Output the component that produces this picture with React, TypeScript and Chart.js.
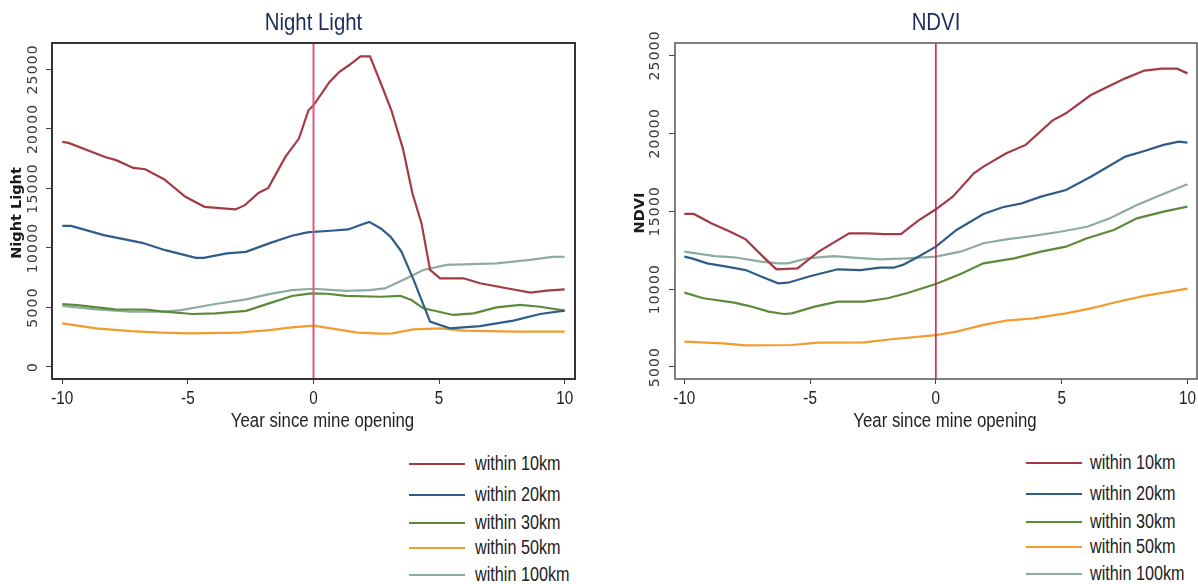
import React, { useEffect, useRef } from "react";
import { Chart, registerables } from "chart.js";

Chart.register(...registerables);

type Pt = [number, number];

const SANS = "'Liberation Sans', Arial, sans-serif";
const WIDE = "'DejaVu Sans', Verdana, sans-serif";

const seriesNames = ["within 10km", "within 20km", "within 30km", "within 50km", "within 100km"];
const seriesColors = ["#a33b45", "#2f5c89", "#5c8a3b", "#f39b2e", "#8cad9e"];
const xTickValues = [-10, -5, 0, 5, 10];
const nlYTickValues = [0, 5000, 10000, 15000, 20000, 25000];
const ndviYTickValues = [5000, 10000, 15000, 20000, 25000];
const xAxisTitle = "Year since mine opening";

// Night Light panel: [year, value]
const nl10km: Pt[] = [[-10, 18900], [-9.75, 18820], [-8.3, 17640], [-7.86, 17370], [-7.17, 16720], [-6.7, 16610], [-5.95, 15770], [-5.1, 14290], [-4.34, 13450], [-3.11, 13230], [-2.73, 13590], [-2.19, 14620], [-1.8, 15040], [-1.12, 17640], [-0.58, 19180], [-0.2, 21560], [0, 21980], [0.64, 23940], [1.03, 24780], [1.41, 25340], [1.87, 26090], [2.25, 26090], [2.71, 23660], [3.1, 21560], [3.56, 18340], [3.94, 14570], [4.3, 12060], [4.64, 8150], [5.04, 7450], [5.97, 7450], [6.63, 7030], [7.69, 6610], [8.64, 6240], [9.28, 6410], [10, 6520]];
const nl20km: Pt[] = [[-10, 11850], [-9.65, 11850], [-8.35, 11070], [-6.82, 10430], [-5.9, 9810], [-4.68, 9170], [-4.37, 9170], [-3.45, 9540], [-2.69, 9670], [-1.77, 10380], [-0.86, 11020], [-0.25, 11300], [0, 11350], [0.69, 11440], [1.38, 11550], [1.84, 11910], [2.22, 12190], [2.68, 11630], [3.07, 10930], [3.5, 9700], [3.99, 7300], [4.64, 3810], [5.43, 3250], [6.63, 3440], [7.96, 3890], [9.02, 4450], [10, 4730]];
const nl30km: Pt[] = [[-10, 5290], [-9.4, 5200], [-7.9, 4840], [-6.67, 4810], [-6.05, 4670], [-4.83, 4450], [-3.9, 4500], [-2.68, 4720], [-1.77, 5340], [-0.86, 5960], [-0.08, 6180], [0.53, 6150], [1.3, 5980], [2.68, 5900], [3.45, 5980], [3.9, 5620], [4.37, 4930], [5.57, 4370], [6.37, 4510], [7.29, 5010], [8.22, 5210], [9.02, 5060], [10, 4730]];
const nl50km: Pt[] = [[-10, 3660], [-8.65, 3250], [-7.27, 3020], [-6.05, 2880], [-4.98, 2830], [-2.99, 2880], [-1.77, 3100], [-0.86, 3330], [0, 3470], [0.69, 3250], [1.76, 2880], [2.68, 2800], [3.14, 2830], [3.97, 3160], [5.04, 3250], [5.97, 3050], [7.96, 2970], [10, 2970]];
const nl100km: Pt[] = [[-10, 5140], [-8.65, 4840], [-7.27, 4640], [-6.05, 4640], [-5.28, 4780], [-3.9, 5290], [-2.68, 5680], [-1.77, 6120], [-0.86, 6460], [0, 6570], [1.3, 6400], [2.22, 6460], [2.84, 6600], [3.71, 7450], [4.37, 8150], [5.3, 8570], [7.29, 8710], [8.62, 8990], [9.5, 9250], [10, 9260]];

// NDVI panel: [year, value]
const ndvi10km: Pt[] = [[-10, 14820], [-9.62, 14820], [-8.93, 14220], [-8.17, 13680], [-7.56, 13190], [-6.8, 11970], [-6.34, 11270], [-5.5, 11330], [-4.66, 12400], [-3.45, 13580], [-2.68, 13580], [-2.07, 13530], [-1.39, 13530], [-0.7, 14390], [0, 15120], [0.67, 15930], [1.51, 17430], [1.89, 17860], [2.8, 18710], [3.57, 19250], [4.63, 20810], [5.17, 21280], [6.16, 22450], [7.53, 23520], [8.29, 24020], [8.98, 24140], [9.59, 24140], [10, 23840]];
const ndvi20km: Pt[] = [[-10, 12080], [-9.7, 11970], [-9.09, 11650], [-8.32, 11440], [-7.56, 11220], [-6.95, 10800], [-6.27, 10370], [-5.88, 10410], [-4.97, 10840], [-3.9, 11270], [-2.99, 11220], [-2.23, 11370], [-1.69, 11370], [-1.31, 11550], [-0.7, 12080], [0, 12720], [0.82, 13790], [1.89, 14820], [2.65, 15250], [3.41, 15500], [4.18, 15930], [5.17, 16360], [6.16, 17210], [7.53, 18500], [8.29, 18860], [9.05, 19250], [9.66, 19460], [10, 19400]];
const ndvi30km: Pt[] = [[-10, 9770], [-9.24, 9410], [-8.02, 9130], [-7.41, 8910], [-6.65, 8550], [-6.04, 8400], [-5.73, 8440], [-4.82, 8870], [-3.9, 9190], [-2.84, 9190], [-1.92, 9410], [-1.16, 9730], [0, 10330], [0.98, 10970], [1.89, 11650], [3.11, 11970], [4.18, 12400], [5.17, 12720], [6.01, 13260], [7.07, 13790], [7.99, 14540], [9.05, 14970], [10, 15290]];
const ndvi50km: Pt[] = [[-10, 6630], [-8.48, 6520], [-7.56, 6390], [-5.73, 6410], [-4.66, 6560], [-2.84, 6580], [-1.77, 6780], [0, 7050], [0.82, 7270], [1.89, 7700], [2.8, 7970], [3.87, 8120], [5.17, 8440], [6.16, 8760], [7.23, 9190], [8.29, 9560], [10, 10030]];
const ndvi100km: Pt[] = [[-10, 12400], [-8.78, 12120], [-8.02, 12040], [-6.95, 11760], [-6.27, 11650], [-5.88, 11650], [-5.12, 11970], [-4.05, 12120], [-3.29, 12020], [-2.23, 11910], [-1.16, 11970], [0, 12080], [0.98, 12400], [1.89, 12940], [2.8, 13190], [3.87, 13410], [4.94, 13680], [6.01, 14000], [6.92, 14540], [7.99, 15400], [9.21, 16210], [10, 16720]];

interface PanelSpec {
  title: string;
  yTitle: string;
  series: Pt[][];
  yTicks: number[];
  xMin: number;
  xMax: number;
  yMin: number;
  yMax: number;
  width: number;
  height: number;
  area: { left: number; right: number; top: number; bottom: number };
  yLabelX: number;
  yTitleX: number;
  boxColor: string;
  boxWidth: number;
  vlineColor: string;
  vlineWidth: number;
}

const X_AXIS_H = 40;

function narrowText(ctx: CanvasRenderingContext2D, text: string, x: number, y: number, sx: number) {
  ctx.save();
  ctx.translate(x, y);
  ctx.scale(sx, 1);
  ctx.fillText(text, 0, 0);
  ctx.restore();
}

function Panel({ spec, left }: { spec: PanelSpec; left: number }) {
  const ref = useRef<HTMLCanvasElement | null>(null);
  useEffect(() => {
    const canvas = ref.current;
    if (!canvas) return;
    const a = spec.area;
    const deco = {
      id: "panelDeco",
      afterDatasetsDraw(chart: any) {
        const ctx = chart.ctx as CanvasRenderingContext2D;
        const ca = chart.chartArea;
        const xs = chart.scales.x;
        const ys = chart.scales.y;
        ctx.save();
        // reference line at 0
        const x0 = xs.getPixelForValue(0);
        ctx.strokeStyle = spec.vlineColor;
        ctx.lineWidth = spec.vlineWidth;
        ctx.beginPath();
        ctx.moveTo(x0, ca.top);
        ctx.lineTo(x0, ca.bottom);
        ctx.stroke();
        // plot box
        ctx.strokeStyle = spec.boxColor;
        ctx.lineWidth = spec.boxWidth;
        ctx.strokeRect(ca.left, ca.top, ca.right - ca.left, ca.bottom - ca.top);
        // title
        ctx.textAlign = "center";
        ctx.textBaseline = "middle";
        ctx.fillStyle = "#1f2b5b";
        ctx.font = `24px ${SANS}`;
        narrowText(ctx, spec.title, (ca.left + ca.right) / 2, 23, 0.85);
        // x tick labels
        ctx.fillStyle = "#222";
        ctx.font = `18px ${SANS}`;
        xTickValues.forEach((v) => narrowText(ctx, String(v), xs.getPixelForValue(v), 399, 0.85));
        // x title
        ctx.font = `20px ${SANS}`;
        narrowText(ctx, xAxisTitle, (ca.left + ca.right) / 2 + 9, 421, 0.84);
        // y tick labels (rotated)
        ctx.fillStyle = "#3a3a3a";
        ctx.font = `14px ${WIDE}`;
        (ctx as any).letterSpacing = "1.2px";
        spec.yTicks.forEach((v) => {
          ctx.save();
          ctx.translate(spec.yLabelX, ys.getPixelForValue(v));
          ctx.rotate(-Math.PI / 2);
          ctx.fillText(String(v), 0, 0);
          ctx.restore();
        });
        (ctx as any).letterSpacing = "0px";
        // y title
        ctx.fillStyle = "#1a1a1a";
        ctx.font = `bold 14.5px ${WIDE}`;
        ctx.save();
        ctx.translate(spec.yTitleX, (ca.top + ca.bottom) / 2 + 2);
        ctx.rotate(-Math.PI / 2);
        ctx.fillText(spec.yTitle, 0, 0);
        ctx.restore();
        ctx.restore();
      },
    };
    const chart = new Chart(canvas, {
      type: "line",
      data: {
        datasets: spec.series.map((s, i) => ({
          label: seriesNames[i],
          data: s.map(([x, y]) => ({ x, y })),
          borderColor: seriesColors[i],
          backgroundColor: seriesColors[i],
          borderWidth: 2.2,
          pointRadius: 0,
          fill: false,
          tension: 0,
        })),
      },
      options: {
        animation: false,
        responsive: false,
        events: [],
        layout: {
          padding: {
            left: 0,
            top: a.top,
            right: spec.width - a.right,
            bottom: spec.height - a.bottom - X_AXIS_H,
          },
        },
        plugins: {
          legend: { display: false },
          title: { display: false },
          tooltip: { enabled: false },
        },
        scales: {
          x: {
            type: "linear",
            min: spec.xMin,
            max: spec.xMax,
            afterBuildTicks: (s: any) => {
              s.ticks = xTickValues.map((v) => ({ value: v }));
            },
            afterFit: (s: any) => {
              s.height = X_AXIS_H;
            },
            ticks: { display: false },
            grid: { drawOnChartArea: false, drawTicks: true, tickLength: 5, color: "#444", lineWidth: 1 },
            border: { display: false },
          },
          y: {
            type: "linear",
            min: spec.yMin,
            max: spec.yMax,
            afterBuildTicks: (s: any) => {
              s.ticks = spec.yTicks.map((v) => ({ value: v }));
            },
            afterFit: (s: any) => {
              s.width = a.left;
            },
            ticks: { display: false },
            grid: { drawOnChartArea: false, drawTicks: true, tickLength: 6, color: "#444", lineWidth: 1 },
            border: { display: false },
          },
        },
      },
      plugins: [deco],
    } as any);
    return () => chart.destroy();
  }, [spec]);
  return (
    <canvas
      ref={ref}
      width={spec.width}
      height={spec.height}
      style={{ position: "absolute", left, top: 0, width: spec.width, height: spec.height, display: "block" }}
    />
  );
}

const nightSpec: PanelSpec = {
  title: "Night Light",
  yTitle: "Night Light",
  series: [nl10km, nl20km, nl30km, nl50km, nl100km],
  yTicks: nlYTickValues,
  xMin: -10.41,
  xMax: 10.41,
  yMin: -1008,
  yMax: 27209,
  width: 600,
  height: 440,
  area: { left: 52, right: 575, top: 43, bottom: 379 },
  yLabelX: 33,
  yTitleX: 17,
  boxColor: "#333",
  boxWidth: 2,
  vlineColor: "#e2587a",
  vlineWidth: 2,
};

const ndviSpec: PanelSpec = {
  title: "NDVI",
  yTitle: "NDVI",
  series: [ndvi10km, ndvi20km, ndvi30km, ndvi50km, ndvi100km],
  yTicks: ndviYTickValues,
  xMin: -10.37,
  xMax: 10.38,
  yMin: 4230,
  yMax: 25789,
  width: 598,
  height: 440,
  area: { left: 75, right: 597, top: 43, bottom: 379 },
  yLabelX: 55,
  yTitleX: 40,
  boxColor: "#555",
  boxWidth: 1.5,
  vlineColor: "#cc1840",
  vlineWidth: 1.5,
};

const leftLegendRows = [464, 495, 523, 548, 575];
const rightLegendRows = [463, 494, 522, 547, 574];

function Legend({ lineLeft, textLeft, rows }: { lineLeft: number; textLeft: number; rows: number[] }) {
  return (
    <>
      {seriesNames.map((name, i) => (
        <React.Fragment key={name}>
          <div
            style={{
              position: "absolute",
              left: lineLeft,
              top: rows[i] - 1.25,
              width: 56,
              height: 2.5,
              background: seriesColors[i],
            }}
          />
          <div
            style={{
              position: "absolute",
              left: textLeft,
              top: rows[i],
              transform: "translateY(-50%) scaleX(0.83)",
              transformOrigin: "left center",
              font: `19.5px ${SANS}`,
              lineHeight: 1,
              color: "#222",
              whiteSpace: "nowrap",
            }}
          >
            {name}
          </div>
        </React.Fragment>
      ))}
    </>
  );
}

export default function App() {
  return (
    <div style={{ position: "absolute", left: 0, top: 0, width: 1198, height: 584, background: "#fff", overflow: "hidden" }}>
      <Panel spec={nightSpec} left={0} />
      <Panel spec={ndviSpec} left={600} />
      <Legend lineLeft={409} textLeft={475} rows={leftLegendRows} />
      <Legend lineLeft={1026} textLeft={1090} rows={rightLegendRows} />
    </div>
  );
}
